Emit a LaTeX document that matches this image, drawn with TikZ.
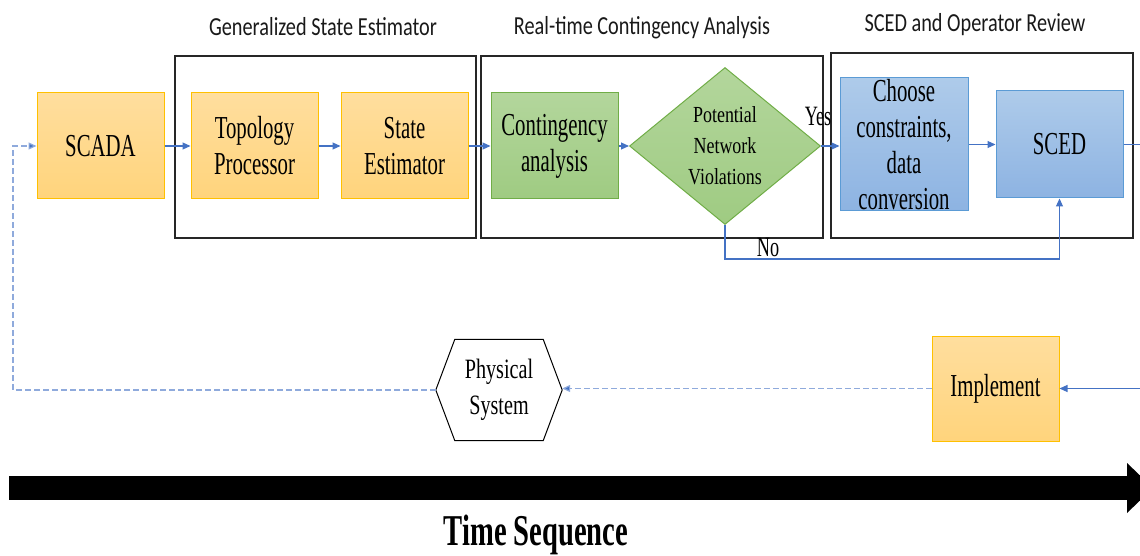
\documentclass[tikz,border=0pt]{standalone}
\usepackage{fontspec}
\setmainfont{Liberation Serif}
\newfontfamily\boxfont[FakeStretch=0.65]{Liberation Serif}
\newfontfamily\diafont[FakeStretch=0.78]{Liberation Serif}
\newfontfamily\physfont[FakeStretch=0.72]{Liberation Serif}
\newfontfamily\titlefont[FakeStretch=0.78]{Carlito}
\usetikzlibrary{shapes.geometric,arrows.meta}
\definecolor{orTop}{HTML}{FFDE9E}
\definecolor{orBot}{HTML}{FFD47C}
\definecolor{orLine}{HTML}{FFC000}
\definecolor{grTop}{HTML}{B3D69C}
\definecolor{grBot}{HTML}{9FCB82}
\definecolor{grLine}{HTML}{70AD47}
\definecolor{blTop}{HTML}{AECBEA}
\definecolor{blBot}{HTML}{8DB3E2}
\definecolor{blLine}{HTML}{5B9BD5}
\definecolor{link}{HTML}{4472C4}
\definecolor{dlink}{HTML}{8FAADC}
\tikzset{
  procbox/.style={line width=1pt, minimum width=127pt, minimum height=106pt,
    inner sep=0pt, align=center, font=\boxfont\fontsize{32}{36}\selectfont},
  orbox/.style={procbox, draw=orLine, top color=orTop, bottom color=orBot},
  grbox/.style={procbox, draw=grLine, top color=grTop, bottom color=grBot},
  blbox/.style={procbox, draw=blLine, top color=blTop, bottom color=blBot},
  groupbox/.style={draw=black!85, line width=1.1pt},
  grouptitle/.style={font=\titlefont\fontsize{26}{30}\selectfont, text=black!90},
  conn/.style={draw=link, line width=1.1pt, -{Triangle[length=8pt,width=7pt]}},
  dconn/.style={draw=dlink, line width=1.2pt, dash pattern=on 6pt off 3pt,
    -{Triangle[length=8pt,width=7pt,fill=link]}},
  lbl/.style={font=\boxfont\fontsize{28}{30}\selectfont, inner sep=0pt}
}
\begin{document}
\begin{tikzpicture}[x=1pt,y=-1pt]
\useasboundingbox (0,0) rectangle (1140,556);
\clip (0,0) rectangle (1140,556);

% stage frames and their headings
\draw[groupbox] (175,56) rectangle (476,238);
\draw[groupbox] (481,56) rectangle (823,238);
\draw[groupbox] (831,53) rectangle (1133,238);
\node[grouptitle] (t1) at (323,27) {Generalized State Estimator};
\node[grouptitle] (t2) at (642,28) {Real-time Contingency Analysis};
\node[grouptitle] (t3) at (975,25) {SCED and Operator Review};

% process blocks
\node[orbox] (scada) at (100.5,146) {SCADA};
\node[orbox] (topo) at (254.5,146) {Topology\\Processor};
\node[orbox] (se) at (404.5,146) {State\\Estimator};
\node[grbox] (cont) at (554.5,146) {Contingency\\analysis};
\node[diamond, draw=grLine, line width=1pt, top color=grTop, bottom color=grBot,
      minimum width=191pt, minimum height=157pt, inner sep=0pt, align=center,
      font=\diafont\fontsize{23}{31}\selectfont] (viol) at (725,146)
      {Potential\\Network\\Violations};
\node[blbox, minimum width=128pt, minimum height=133pt] (choose) at (904,144.5)
      {Choose\\constraints,\\data\\conversion};
\node[blbox, minimum height=107pt] (sced) at (1059.5,144.5) {SCED};
\node[orbox, minimum height=105pt] (impl) at (995.5,388.5) {Implement};

% physical system (hexagon outline around a plain text node)
\node[minimum width=126pt, minimum height=101pt, inner sep=0pt, align=center,
      font=\physfont\fontsize{28}{36}\selectfont] (phys) at (499,390) {Physical\\System};
\draw[line width=1pt] (phys.west) -- ([xshift=19pt]phys.north west)
  -- ([xshift=-19pt]phys.north east) -- (phys.east)
  -- ([xshift=-19pt]phys.south east) -- ([xshift=19pt]phys.south west) -- cycle;

% helper points at the frame edge
\coordinate (outR) at (1140,144.5);
\coordinate (inR) at (1140,388.5);
\coordinate (nolev) at (0,259);
\coordinate (loopx) at (13,0);

% forward flow
\draw[conn] (scada) -- (topo);
\draw[conn] (topo) -- (se);
\draw[conn] (se) -- (cont);
\draw[conn] (cont) -- (viol);
\draw[conn] (viol.east) -- (viol.east -| choose.west);
\draw[conn] (choose) -- (sced);
\draw[draw=link, line width=1.1pt] (sced.east) -- (outR);
\draw[conn] (viol.south) -- (viol.south |- nolev) -| (sced.south);
\draw[conn] (inR) -- (impl.east);

% feedback through the physical system
\draw[dconn] (impl.west) -- (impl.west -| phys.east);
\draw[dconn] (phys.west) -- (phys.west -| loopx) |- (scada.west);

% branch labels
\node[lbl] (yes) at (818,116) {Yes};
\node[lbl] (no) at (768,247) {No};

% time axis
\fill (9,476) rectangle (1128,500);
\fill (1127,463) -- (1153,488) -- (1127,513) -- cycle;
\node[font=\boxfont\bfseries\fontsize{44}{48}\selectfont] (time) at (536,535) {Time Sequence};
\end{tikzpicture}
\end{document}
